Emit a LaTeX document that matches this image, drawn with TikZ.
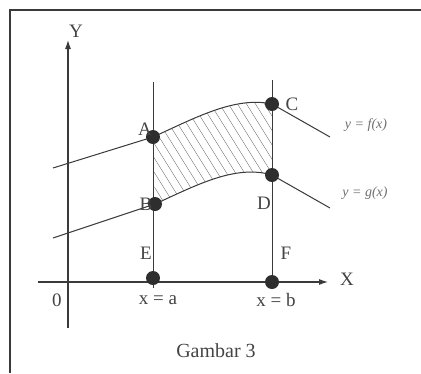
\documentclass[tikz,border=0pt]{standalone}
\usepackage{fontspec}
\setmainfont{Liberation Serif}
\usetikzlibrary{arrows.meta}
\definecolor{ink}{HTML}{3A3A3A}
\definecolor{dotc}{HTML}{2E2E2E}
\definecolor{txt}{HTML}{444444}
\definecolor{hand}{HTML}{707070}
\tikzset{
  ln/.style={draw=ink, line width=1pt},
  axis/.style={draw=ink, line width=1.1pt, -{Latex[length=9pt,width=6pt]}},
  pt/.style={circle, fill=dotc, minimum size=14pt, inner sep=0pt},
  lbl/.style={text=txt, font=\fontsize{19}{19}\selectfont, inner sep=0pt},
  handlbl/.style={text=hand, font=\fontsize{14}{14}\selectfont\itshape, inner sep=0pt},
  hatch/.style={draw=ink!70, line width=0.4pt}
}
\begin{document}
\begin{tikzpicture}[x=1pt, y=-1pt]
\useasboundingbox[fill=white] (0,0) rectangle (421,373);
% frame
\draw[draw=ink, line width=1.2pt] (10,373) -- (10,10) -- (421,10);
% coordinates
\coordinate (yb) at (68,328);
\coordinate (yt) at (68,40);
\coordinate (xl) at (38,282);
\coordinate (xr) at (328,282);
\coordinate (at) at (153,82);
\coordinate (ab) at (153,288);
\coordinate (bt) at (272,80);
\coordinate (bb) at (272,283);
\coordinate (u0) at (53,168);
\coordinate (u1) at (330,137);
\coordinate (l0) at (53,238);
\coordinate (l1) at (330,208);
% points
\path (153,137) coordinate (Ac) (155,204) coordinate (Bc)
      (272,104) coordinate (Cc) (272,175) coordinate (Dc)
      (153,278) coordinate (Ec) (272,282) coordinate (Fc);
% hatching
\begin{scope}
\clip (Ac) .. controls (195,118) and (235,96) .. (Cc) -- (Dc)
      .. controls (235,164) and (195,186) .. (Bc) -- cycle;
\foreach \i in {30,39,...,290} \draw[hatch] (\i,60) -- ++(100,160);
\end{scope}
% axes
\draw[axis] (yb) -- (yt);
\draw[axis] (xl) -- (xr);
% verticals
\draw[ln] (at) -- (ab);
\draw[ln] (bt) -- (bb);
% curves
\draw[ln] (u0) -- (Ac) .. controls (195,118) and (235,96) .. (Cc) -- (u1);
\draw[ln] (l0) -- (Bc) .. controls (195,186) and (235,164) .. (Dc) -- (l1);
% dots
\node[pt] (A) at (Ac) {};
\node[pt] (B) at (Bc) {};
\node[pt] (C) at (Cc) {};
\node[pt] (D) at (Dc) {};
\node[pt] (E) at (Ec) {};
\node[pt] (F) at (Fc) {};
% labels
\node[lbl] (lY) at (76,31) {Y};
\node[lbl] (lX) at (347,279) {X};
\node[lbl] (l0l) at (57,300) {0};
\node[lbl] (lA) at (145,129) {A};
\node[lbl] (lB) at (146,204) {B};
\node[lbl] (lC) at (292,104) {C};
\node[lbl] (lD) at (264,203) {D};
\node[lbl] (lE) at (146,253) {E};
\node[lbl] (lF) at (286,253) {F};
\node[lbl] (xa) at (158,300) {x = a};
\node[lbl] (xb) at (276,300) {x = b};
\node[handlbl] (fx) at (366,125) {y = f(x)};
\node[handlbl] (gx) at (365,193) {y = g(x)};
\node[lbl, font=\fontsize{20}{20}\selectfont] (cap) at (216,351) {Gambar 3};
\end{tikzpicture}
\end{document}
